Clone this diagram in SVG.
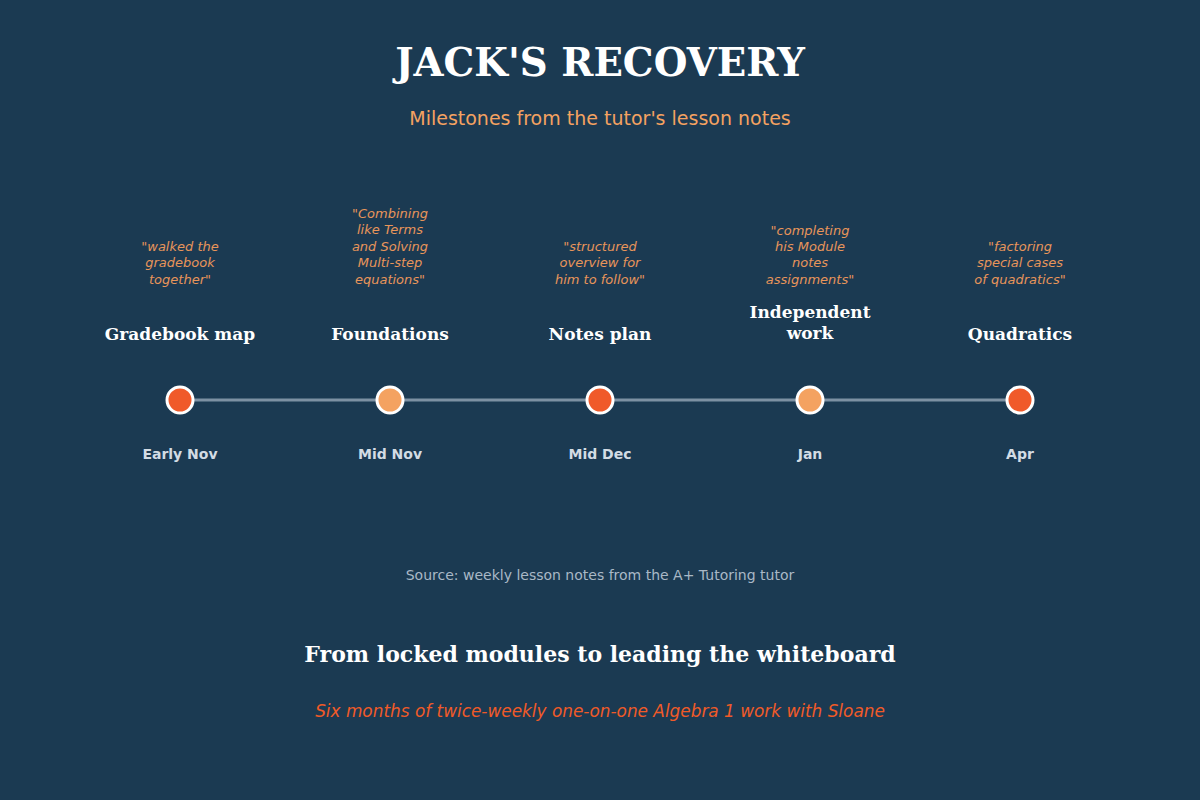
<svg xmlns="http://www.w3.org/2000/svg" width="1200" height="800" viewBox="0 0 1200 800">
<style>
.title{font-family:"DejaVu Serif",serif;font-weight:bold;font-size:38.7px;fill:#ffffff;text-anchor:middle}
.sub{font-family:"DejaVu Sans",sans-serif;font-size:19px;fill:#f4a261;text-anchor:middle}
.quote{font-family:"DejaVu Sans",sans-serif;font-style:italic;font-size:13px;fill:#e8955a;text-anchor:middle}
.label{font-family:"DejaVu Serif",serif;font-weight:bold;font-size:17px;fill:#ffffff;text-anchor:middle}
.date{font-family:"DejaVu Sans",sans-serif;font-weight:bold;font-size:14px;fill:#d3dce4;text-anchor:middle}
.src{font-family:"DejaVu Sans",sans-serif;font-size:14px;fill:#a9b8c6;text-anchor:middle}
.head{font-family:"DejaVu Serif",serif;font-weight:bold;font-size:22px;fill:#ffffff;text-anchor:middle}
.tag{font-family:"DejaVu Sans",sans-serif;font-style:italic;font-size:16.9px;fill:#f05a28;text-anchor:middle}
.dot{stroke:#ffffff;stroke-width:3}
.a{fill:#f05a2a}.b{fill:#f4a261}
.line{stroke:#7d91a3;stroke-width:3}
</style>
<rect width="1200" height="800" fill="#1b3a52"/>
<text class="title" x="600" y="76">JACK'S RECOVERY</text>
<text class="sub" x="600" y="125">Milestones from the tutor's lesson notes</text>
<g id="connectors">
<line class="line" x1="180" y1="400" x2="1020" y2="400"/>
</g>
<g id="n1">
<text class="quote" x="180" y="251">"walked the</text>
<text class="quote" x="180" y="267">gradebook</text>
<text class="quote" x="180" y="284">together"</text>
<text class="label" x="180" y="340">Gradebook map</text>
<circle class="dot a" cx="180" cy="400" r="13"/>
<text class="date" x="180" y="459">Early Nov</text>
</g>
<g id="n2">
<text class="quote" x="390" y="218">"Combining</text>
<text class="quote" x="390" y="234">like Terms</text>
<text class="quote" x="390" y="251">and Solving</text>
<text class="quote" x="390" y="267">Multi-step</text>
<text class="quote" x="390" y="284">equations"</text>
<text class="label" x="390" y="340">Foundations</text>
<circle class="dot b" cx="390" cy="400" r="13"/>
<text class="date" x="390" y="459">Mid Nov</text>
</g>
<g id="n3">
<text class="quote" x="600" y="251">"structured</text>
<text class="quote" x="600" y="267">overview for</text>
<text class="quote" x="600" y="284">him to follow"</text>
<text class="label" x="600" y="340">Notes plan</text>
<circle class="dot a" cx="600" cy="400" r="13"/>
<text class="date" x="600" y="459">Mid Dec</text>
</g>
<g id="n4">
<text class="quote" x="810" y="235">"completing</text>
<text class="quote" x="810" y="251">his Module</text>
<text class="quote" x="810" y="267">notes</text>
<text class="quote" x="810" y="284">assignments"</text>
<text class="label" x="810" y="318">Independent</text>
<text class="label" x="810" y="339">work</text>
<circle class="dot b" cx="810" cy="400" r="13"/>
<text class="date" x="810" y="459">Jan</text>
</g>
<g id="n5">
<text class="quote" x="1020" y="251">"factoring</text>
<text class="quote" x="1020" y="267">special cases</text>
<text class="quote" x="1020" y="284">of quadratics"</text>
<text class="label" x="1020" y="340">Quadratics</text>
<circle class="dot a" cx="1020" cy="400" r="13"/>
<text class="date" x="1020" y="459">Apr</text>
</g>
<text class="src" x="600" y="580">Source: weekly lesson notes from the A+ Tutoring tutor</text>
<text class="head" x="600" y="662">From locked modules to leading the whiteboard</text>
<text class="tag" x="600" y="717">Six months of twice-weekly one-on-one Algebra 1 work with Sloane</text>
</svg>
